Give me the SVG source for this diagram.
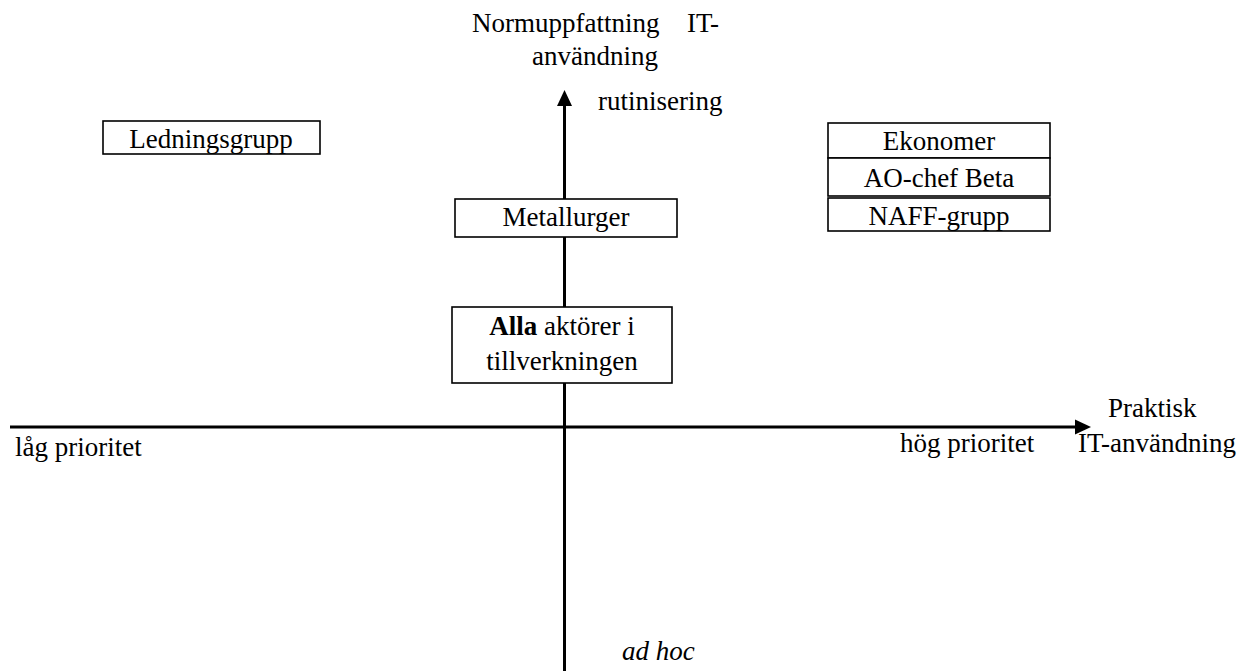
<svg xmlns="http://www.w3.org/2000/svg" width="1244" height="671" viewBox="0 0 1244 671">
  <defs>
    <style>
      text { font-family: "Liberation Serif", "Times New Roman", serif; font-size: 27px; fill: #000; }
      .mid { text-anchor: middle; }
      .box { fill: #fff; stroke: #000; stroke-width: 1.6; }
      .axis { stroke: #000; stroke-width: 3; fill: none; }
    </style>
    <marker id="arrow" viewBox="0 0 16 16" refX="0" refY="8" markerWidth="16" markerHeight="16" markerUnits="userSpaceOnUse" orient="auto">
      <path d="M0,0.5 L16,8 L0,15.5 Z" fill="#000"/>
    </marker>
  </defs>
  <rect width="1244" height="671" fill="#fff"/>

  <!-- axes -->
  <g id="connectors">
    <line class="axis" x1="564.5" y1="671" x2="564.5" y2="106" marker-end="url(#arrow)"/>
    <line class="axis" x1="10" y1="427" x2="1075" y2="427" marker-end="url(#arrow)"/>
  </g>

  <!-- axis labels -->
  <g id="axis-labels">
    <text x="472" y="32">Normuppfattning</text>
    <text x="687" y="32">IT-</text>
    <text x="532" y="65">användning</text>
    <text x="598" y="110">rutinisering</text>
    <text x="1108" y="417">Praktisk</text>
    <text x="1078" y="452">IT-användning</text>
    <text x="15" y="456">låg prioritet</text>
    <text x="900" y="452">hög prioritet</text>
    <text x="622" y="660" font-style="italic">ad hoc</text>
  </g>

  <g id="ledningsgrupp">
    <rect class="box" x="103" y="121" width="217" height="33"/>
    <text class="mid" x="211" y="148">Ledningsgrupp</text>
  </g>

  <g id="ekonomer">
    <rect class="box" x="828" y="123" width="222" height="35"/>
    <text class="mid" x="939" y="150">Ekonomer</text>
  </g>

  <g id="ao-chef">
    <rect class="box" x="828" y="158" width="222" height="38"/>
    <text class="mid" x="939" y="187">AO-chef Beta</text>
  </g>

  <g id="naff-grupp">
    <rect class="box" x="828" y="198" width="222" height="33"/>
    <text class="mid" x="939" y="225">NAFF-grupp</text>
  </g>

  <g id="metallurger">
    <rect class="box" x="455" y="199" width="222" height="38"/>
    <text class="mid" x="566" y="226">Metallurger</text>
  </g>

  <g id="alla-aktorer">
    <rect class="box" x="452" y="307" width="220" height="76"/>
    <text class="mid" x="562" y="335"><tspan font-weight="bold">Alla</tspan> aktörer i</text>
    <text class="mid" x="562" y="370">tillverkningen</text>
  </g>
</svg>
